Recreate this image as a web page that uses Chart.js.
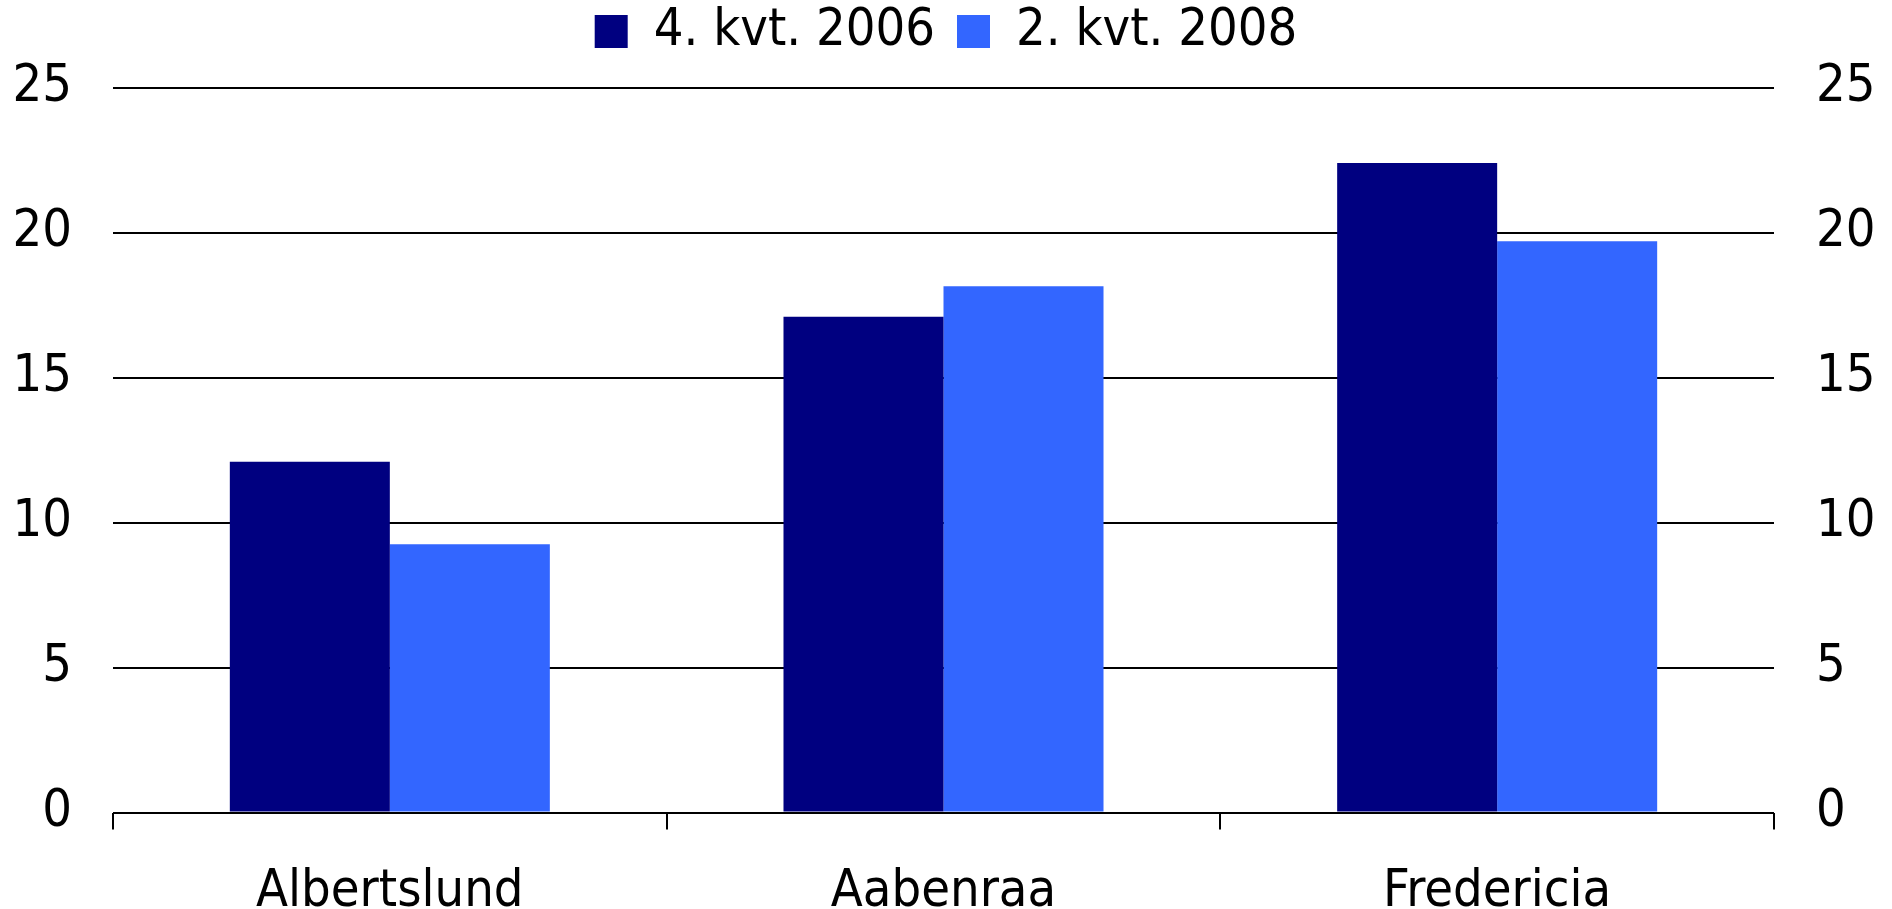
<!DOCTYPE html>
<html>
<head>
<meta charset="utf-8">
<title>Albertslund, Aabenraa, Fredericia</title>
<script src="https://cdn.jsdelivr.net/npm/chart.js@4.4.1/dist/chart.umd.min.js"></script>
<style>
  html, body { margin: 0; padding: 0; background: #fff; overflow: hidden; }
  #wrap { width: 1892px; height: 956px; }
</style>
</head>
<body>
<div id="wrap"><canvas id="chart"></canvas></div>
<script>
const categories = ['Albertslund', 'Aabenraa', 'Fredericia'];
const seriesNames = ['4. kvt. 2006', '2. kvt. 2008'];
const q4_2006 = [12.1, 17.1, 22.4];
const q2_2008 = [9.25, 18.15, 19.7];
const yTicks = [0, 5, 10, 15, 20, 25];

const FONT = "'DejaVu Sans Condensed', 'DejaVu Sans', sans-serif";
const tickFont = { family: FONT, size: 52 };

const ctx = document.getElementById('chart').getContext('2d');
new Chart(ctx, {
    type: 'bar',
    data: {
        labels: categories,
        datasets: [
            { label: seriesNames[0], data: q4_2006, backgroundColor: '#000080' },
            { label: seriesNames[1], data: q2_2008, backgroundColor: '#3366FF' }
        ]
    },
    options: {
        responsive: true,
        maintainAspectRatio: false,
        animation: false,
        events: [],
        layout: { padding: { top: -16.5, left: 0, right: 0, bottom: 0 } },
        datasets: { bar: { barPercentage: 1, categoryPercentage: 0.578 } },
        plugins: {
            tooltip: { enabled: false },
            legend: {
                position: 'top',
                labels: {
                    boxWidth: 33,
                    boxHeight: 33,
                    padding: 22,
                    color: '#000',
                    font: { family: FONT, size: 52 }
                }
            },
            // empty title under the legend, only used as a spacer
            title: {
                display: true,
                text: '',
                position: 'top',
                weight: 500,
                font: { size: 1, lineHeight: 1 },
                padding: { top: 0, bottom: 19 }
            }
        },
        scales: {
            x: {
                grid: {
                    display: true,
                    drawOnChartArea: false,
                    drawTicks: true,
                    tickLength: 17,
                    color: '#000',
                    lineWidth: 2
                },
                border: { display: false },
                ticks: { color: '#000', padding: 32, font: tickFont }
            },
            y: {
                position: 'left',
                min: 0,
                max: 25,
                afterBuildTicks: s => { s.ticks = yTicks.map(v => ({ value: v })); },
                afterFit: s => { s.width = 113; },
                grid: { color: '#000', lineWidth: 2, drawTicks: false },
                border: { display: false },
                ticks: { color: '#000', padding: 41, autoSkip: false, font: tickFont }
            },
            y2: {
                position: 'right',
                min: 0,
                max: 25,
                afterBuildTicks: s => { s.ticks = yTicks.map(v => ({ value: v })); },
                afterFit: s => { s.width = 118; },
                grid: { display: false, drawTicks: false },
                border: { display: false },
                ticks: { color: '#000', padding: 42, autoSkip: false, font: tickFont }
            }
        }
    }
});
</script>
</body>
</html>
